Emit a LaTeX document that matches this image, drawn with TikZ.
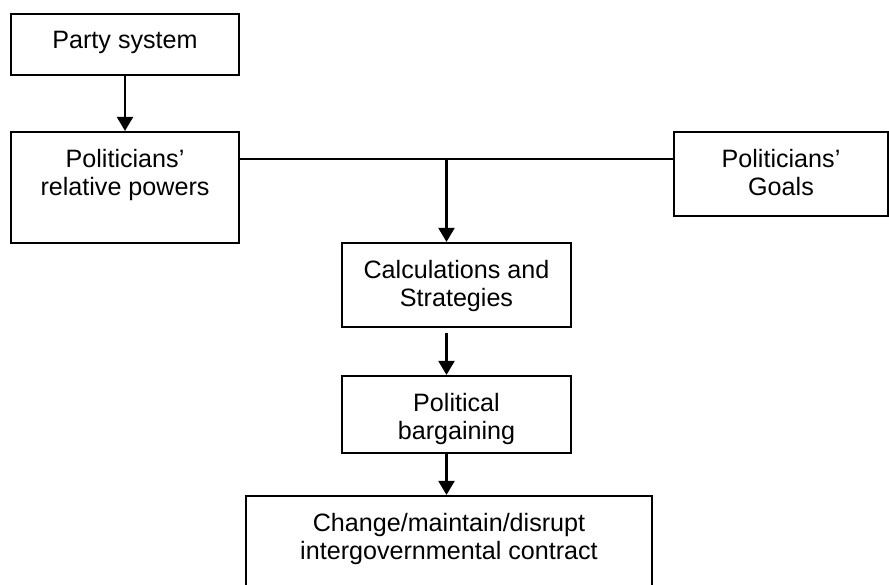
\documentclass[tikz,border=0pt]{standalone}
\usepackage{fontspec}
\setmainfont{Liberation Sans}
\usetikzlibrary{arrows.meta}

\begin{document}
\begin{tikzpicture}[
        box/.style={draw, line width=1.2pt, inner sep=0pt},
        boxtext/.style={anchor=north, yshift=-0.36cm, align=center, inner sep=0pt, font=\fontsize{14.3pt}{15.8pt}\selectfont},
        link/.style={draw, line width=1.2pt},
        arrow/.style={draw, line width=1.2pt, -{Triangle[width=0.32cm, length=0.28cm]}},
    ]
	\useasboundingbox (0,0) rectangle (17.78,11.70);
	\clip (0,0) rectangle (17.78,11.70);
	\node[box, minimum width=4.56cm, minimum height=1.22cm] (party) at (2.50,10.81) {};
	\node[box, minimum width=4.56cm, minimum height=2.22cm] (rel) at (2.50,7.95) {};
	\node[box, minimum width=4.28cm, minimum height=1.68cm] (goals) at (15.62,8.22) {};
	\node[box, minimum width=4.58cm, minimum height=1.68cm] (calc) at (9.13,6.00) {};
	\node[box, minimum width=4.58cm, minimum height=1.54cm] (polit) at (9.13,3.41) {};
	\node[box, minimum width=8.12cm, minimum height=2.40cm] (change) at (8.98,0.58) {};
	\coordinate (j) at (8.93,8.52);
	\draw[arrow] (party) -- (rel);
	\draw[link] (rel.east |- j) -- (goals.west |- j);
	\draw[arrow] (j) -- (calc.north -| j);
	\draw[arrow] ([yshift=-0.1cm]calc.south -| j) -- (polit.north -| j);
	\draw[arrow] (polit.south -| j) -- (change.north -| j);
	\node[boxtext] at (party.north) {Party system};
	\node[boxtext] at (rel.north) {Politicians'\\relative powers};
	\node[boxtext] at (goals.north) {Politicians'\\Goals};
	\node[boxtext] at (calc.north) {Calculations and\\Strategies};
	\node[boxtext] at (polit.north) {Political\\bargaining};
	\node[boxtext] at (change.north) {Change/maintain/disrupt\\intergovernmental contract};
\end{tikzpicture}
\end{document}
